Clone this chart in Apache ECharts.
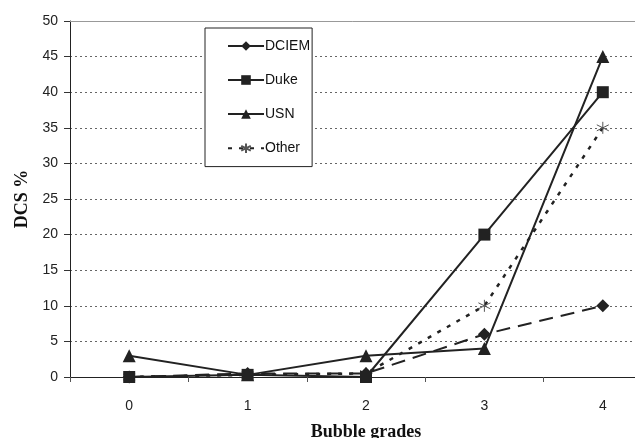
<!DOCTYPE html>
<html><head><meta charset="utf-8">
<script src="https://cdn.jsdelivr.net/npm/echarts@6/dist/echarts.min.js"></script>
<style>html,body{margin:0;padding:0;background:#fff}#c{width:635px;height:438px}</style>
</head><body><div id="c"></div>
<script>
const categories = ['0','1','2','3','4'];
const dciem = [0, 0.5, 0.5, 6, 10];
const duke = [0, 0.3, 0, 20, 40];
const usn = [3, 0.3, 3, 4, 45];
const other = [0, 0.3, 0.5, 10, 35];
const yTicks = [0,5,10,15,20,25,30,35,40,45,50];

const star = 'path://M0,-10L0,10M-8.66,-5L8.66,5M-8.66,5L8.66,-5';
const chart = echarts.init(document.getElementById('c'));
chart.setOption({
  animation: false,
  backgroundColor: '#fff',
  grid: {left: 70, width: 592, top: 21, height: 356, outerBoundsMode: 'none', containLabel: false},
  legend: {
    orient: 'vertical', left: 205, top: 28,
    padding: [11, 2, 11, 22], itemGap: 20, itemWidth: 36, itemHeight: 12,
    backgroundColor: '#fff', borderColor: '#222', borderWidth: 1,
    textStyle: {fontFamily: 'Arial, Liberation Sans', fontSize: 14, color: '#111', padding: [0,0,0,-4]},
    data: ['DCIEM','Duke','USN','Other']
  },
  xAxis: [{
    type: 'category', data: categories, boundaryGap: true,
    axisLine: {lineStyle: {color: '#222', width: 1}},
    axisTick: {show: true, length: 5, alignWithLabel: false, lineStyle: {color: '#555'}},
    axisLabel: {fontFamily: 'Arial, Liberation Sans', fontSize: 14, color: '#222', margin: 22},
    name: 'Bubble grades', nameLocation: 'middle', nameGap: 46,
    nameTextStyle: {fontFamily: 'Liberation Serif, Times New Roman, serif', fontWeight: 'bold', fontSize: 18, color: '#111'}
  }, {
    type: 'category', data: categories, position: 'top',
    axisLine: {lineStyle: {color: '#999', width: 1}}, axisTick: {show: false}, axisLabel: {show: false}
  }],
  yAxis: {
    type: 'value', min: 0, max: 50, interval: 5,
    axisLine: {show: true, lineStyle: {color: '#222'}},
    axisTick: {show: true, length: 6, lineStyle: {color: '#333'}},
    axisLabel: {fontFamily: 'Arial, Liberation Sans', fontSize: 14, color: '#222', margin: 12,
      formatter: v => yTicks.includes(v) ? String(v) : ''},
    splitLine: {show: true, lineStyle: {color: '#666', type: [2, 3], width: 1}},
    name: 'DCS %', nameLocation: 'middle', nameGap: 33,
    nameTextStyle: {fontFamily: 'Liberation Serif, Times New Roman, serif', fontWeight: 'bold', fontSize: 18, color: '#111'}
  },
  series: [
    {name: 'DCIEM', type: 'line', data: dciem, symbol: 'diamond', symbolSize: 13,
      lineStyle: {color: '#222', width: 2, type: [14, 8]}, itemStyle: {color: '#222'}, z: 3},
    {name: 'Duke', type: 'line', data: duke, symbol: 'rect', symbolSize: 12,
      lineStyle: {color: '#222', width: 2}, itemStyle: {color: '#222'}, z: 4},
    {name: 'USN', type: 'line', data: usn, symbol: 'triangle', symbolSize: 13,
      lineStyle: {color: '#222', width: 2}, itemStyle: {color: '#222'}, z: 5},
    {name: 'Other', type: 'line', data: other, symbol: star, symbolSize: 12,
      lineStyle: {color: '#222', width: 2.5, type: [4, 7]},
      itemStyle: {color: 'none', borderColor: '#555', borderWidth: 1}, z: 2}
  ]
});
</script></body></html>
